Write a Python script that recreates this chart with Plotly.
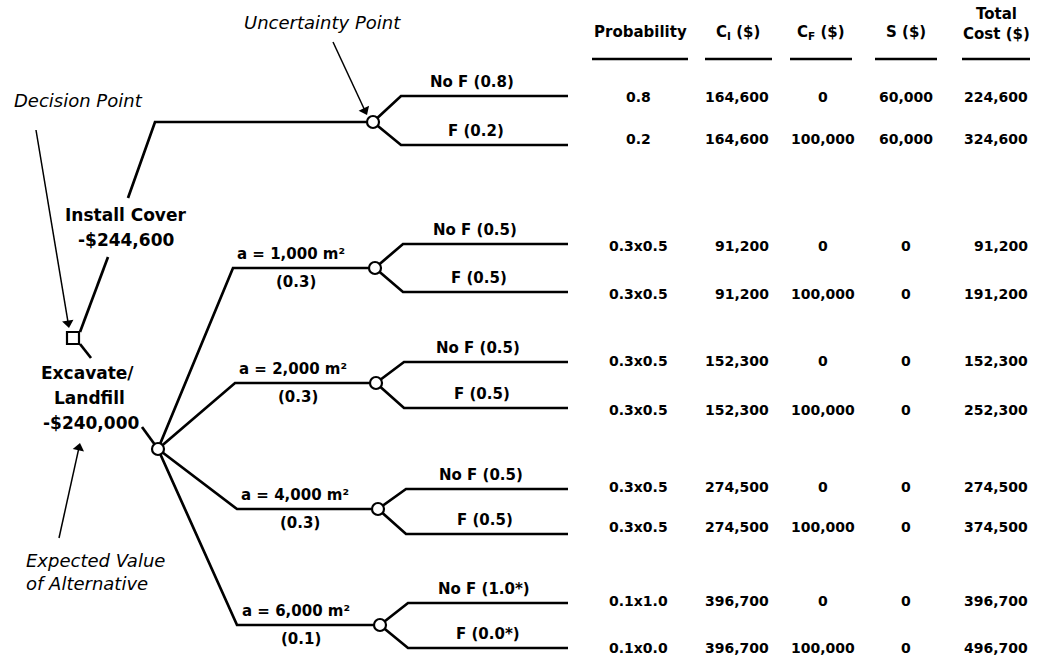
import math
import plotly.graph_objects as go

# ---------------- data ----------------
alternatives = ["Install Cover", "Excavate/<br>Landfill"]
alt_values = ["-$244,600", "-$240,000"]
area_labels = ["a = 1,000 m²", "a = 2,000 m²", "a = 4,000 m²", "a = 6,000 m²"]
area_probs = ["(0.3)", "(0.3)", "(0.3)", "(0.1)"]
outcome_labels = [
    ["No F (0.8)", "F (0.2)"],
    ["No F (0.5)", "F (0.5)"],
    ["No F (0.5)", "F (0.5)"],
    ["No F (0.5)", "F (0.5)"],
    ["No F (1.0*)", "F (0.0*)"],
]
headers = ["Probability", "C<sub>I</sub> ($)", "C<sub>F</sub> ($)", "S ($)", "Total<br>Cost ($)"]
prob_col = ["0.8", "0.2", "0.3x0.5", "0.3x0.5", "0.3x0.5", "0.3x0.5", "0.3x0.5", "0.3x0.5", "0.1x1.0", "0.1x0.0"]
ci_col = ["164,600", "164,600", "91,200", "91,200", "152,300", "152,300", "274,500", "274,500", "396,700", "396,700"]
cf_col = ["0", "100,000", "0", "100,000", "0", "100,000", "0", "100,000", "0", "100,000"]
s_col = ["60,000", "60,000", "0", "0", "0", "0", "0", "0", "0", "0"]
total_col = ["224,600", "324,600", "91,200", "191,200", "152,300", "252,300", "274,500", "374,500", "396,700", "496,700"]

# ---------------- layout geometry ----------------
W, H = 1045, 659
FONT = "DejaVu Sans"
LW = 2.7
dec = (73, 338)                       # decision square
top_elbow = (155, 122)
top_node = (373, 122)
exc_node = (158, 449)
area_elbows = [(233, 268), (235, 383), (237, 509), (237, 625)]
area_nodes = [(375, 268), (376, 383), (378, 509), (380, 625)]
unc_nodes = [top_node] + area_nodes
up_off = [-26, -24, -21, -20, -22]
dn_off = [23, 24, 25, 25, 23]
branch_dx = 28
end_x = 568

fig = go.Figure()

def seg(xs, ys, w=LW):
    fig.add_trace(go.Scatter(x=xs, y=ys, mode="lines",
                             line=dict(color="black", width=w),
                             hoverinfo="skip", showlegend=False))

# Install Cover branch (broken around its label)
seg([80, 108], [332, 257])
seg([128, top_elbow[0], top_node[0]], [198, top_elbow[1], top_node[1]])
# Excavate branch (broken around its label)
seg([80, 91], [344, 358])
seg([142, exc_node[0]], [427, exc_node[1]])
# area branches
for (ex, ey), (nx, ny) in zip(area_elbows, area_nodes):
    seg([exc_node[0], ex, nx], [exc_node[1], ey, ny])

# outcome branches
line_ys = []
for (nx, ny), uo, do in zip(unc_nodes, up_off, dn_off):
    for off in (uo, do):
        seg([nx, nx + branch_dx, end_x], [ny, ny + off, ny + off])
        line_ys.append(ny + off)

# nodes
fig.add_trace(go.Scatter(
    x=[p[0] for p in unc_nodes] + [exc_node[0]],
    y=[p[1] for p in unc_nodes] + [exc_node[1]],
    mode="markers",
    marker=dict(symbol="circle", size=12, color="white", line=dict(color="black", width=2.2)),
    hoverinfo="skip", showlegend=False))
fig.add_trace(go.Scatter(
    x=[dec[0]], y=[dec[1]], mode="markers",
    marker=dict(symbol="square", size=12, color="white", line=dict(color="black", width=2.2)),
    hoverinfo="skip", showlegend=False))

# callout arrows (line + triangular head)
arrows = [((36, 130), (69, 328)), ((333, 42), (367, 115)), ((59, 538), (80, 443))]
for (tx, ty), (hx_, hy_) in arrows:
    dx, dy = hx_ - tx, hy_ - ty
    L = math.hypot(dx, dy)
    ux, uy = dx / L, dy / L
    bx, by = hx_ - 5 * ux, hy_ - 5 * uy
    seg([tx, bx], [ty, by], w=1.5)
    ang = math.degrees(math.atan2(dx, -dy))
    fig.add_trace(go.Scatter(x=[bx], y=[by], mode="markers",
                             marker=dict(symbol="triangle-up", size=10, angle=ang, color="black",
                                         line=dict(width=0)),
                             hoverinfo="skip", showlegend=False))

ann = []

def txt(x, y, t, size=15, bold=True, italic=False, xanchor="center", align="center"):
    s = t
    if bold:
        s = "<b>" + s + "</b>"
    if italic:
        s = "<i>" + s + "</i>"
    ann.append(dict(x=x, y=y, xref="x", yref="y", text=s, showarrow=False,
                    xanchor=xanchor, yanchor="middle", align=align,
                    font=dict(family=FONT, size=size, color="black")))

# italic callouts
txt(322, 22, "Uncertainty Point", size=18, bold=False, italic=True)
txt(78, 100, "Decision Point", size=18, bold=False, italic=True)
txt(24, 572, "Expected Value<br>of Alternative", size=18, bold=False, italic=True,
    xanchor="left", align="left")

# alternative labels
txt(125, 215, alternatives[0], size=17)
txt(126, 240, alt_values[0], size=17)
exc_lines = alternatives[1].split("<br>")
txt(87, 373, exc_lines[0], size=17)
txt(89, 398, exc_lines[1], size=17)
txt(91, 423, alt_values[1], size=17)

# area labels
for (ex, ey), (nx, ny), lab, pr in zip(area_elbows, area_nodes, area_labels, area_probs):
    cx = (ex + nx) / 2 - 13
    txt(cx, ey - 14, lab, size=15)
    txt(cx + 5, ey + 14, pr, size=15)

# outcome labels
k = 0
for (nx, ny), labs in zip(unc_nodes, outcome_labels):
    for j, lab in enumerate(labs):
        ly = line_ys[k]
        cx = 472 + 3 * (k // 2) + (4 if j == 1 else 0)
        txt(cx, ly - 14, lab, size=15)
        k += 1

# table headers
hx = [640, 738, 821, 906, 996]
for x, h in zip(hx, headers):
    if "<br>" in h:
        a, b = h.split("<br>")
        txt(x, 14, a, size=15)
        txt(x, 34, b, size=15)
    else:
        txt(x, 32, h, size=15)
underlines = [(592, 688), (705, 772), (790, 852), (875, 937), (962, 1030)]
for x0, x1 in underlines:
    seg([x0, x1], [59, 59], w=2.5)

# table rows
row_adj = [1, -6, 2, 2, -1, 2, -2, -7, -2, 0]
for i, ly in enumerate(line_ys):
    y = ly + row_adj[i]
    txt(638, y, prob_col[i], size=14)
    txt(771, y, ci_col[i], size=14, xanchor="right")
    txt(823, y, cf_col[i], size=14)
    txt(906, y, s_col[i], size=14)
    txt(1030, y, total_col[i], size=14, xanchor="right")

fig.update_layout(
    width=W, height=H, margin=dict(l=0, r=0, t=0, b=0),
    paper_bgcolor="white", plot_bgcolor="white",
    xaxis=dict(range=[0, W], visible=False, fixedrange=True),
    yaxis=dict(range=[H, 0], visible=False, fixedrange=True),
    annotations=ann, showlegend=False,
)

fig.write_html("out.html", config={"displayModeBar": False},
               post_script="document.body.style.margin='0';document.body.style.overflow='hidden';")
